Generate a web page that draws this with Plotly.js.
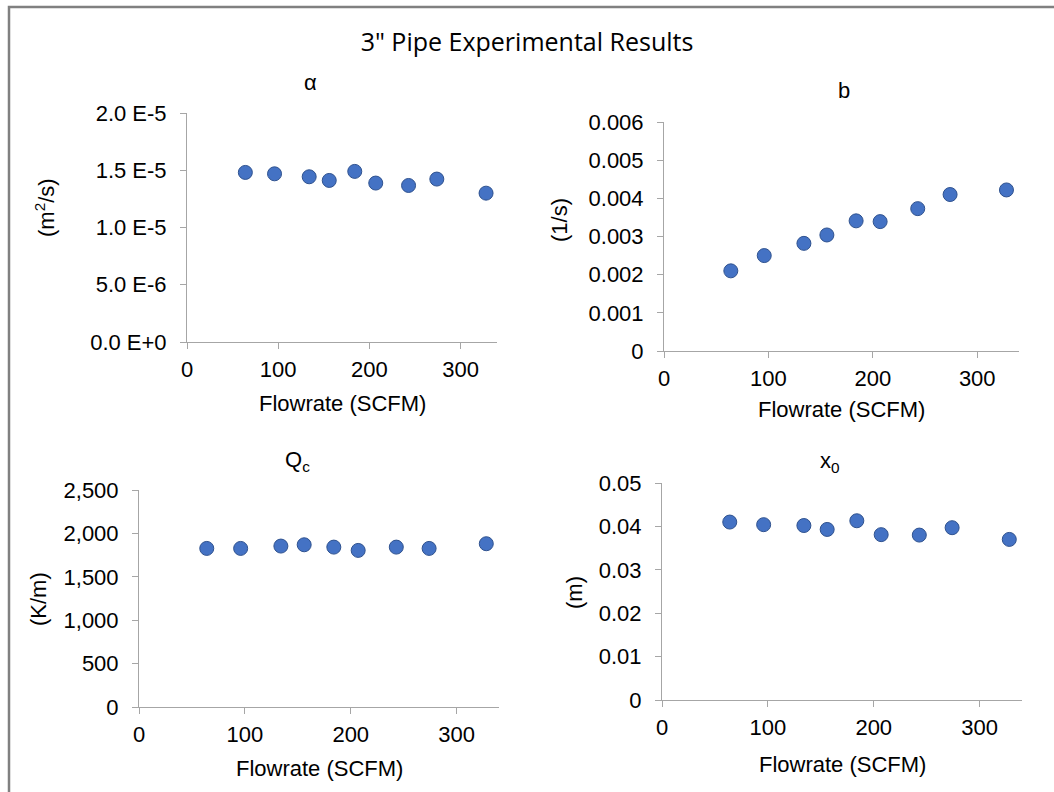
<!DOCTYPE html>
<html>
<head>
<meta charset="utf-8">
<script src="https://cdn.plot.ly/plotly-3.0.1.min.js"></script>
<style>html,body{margin:0;padding:0;background:#fff;}#chart{width:1054px;height:792px;}</style>
</head>
<body>
<div id="chart"></div>
<script>
// Data
const flowrate = [64, 96, 134, 156, 184, 207, 243, 274, 328];
const alphaVals = [1.481e-5, 1.469e-5, 1.443e-5, 1.411e-5, 1.490e-5, 1.388e-5, 1.367e-5, 1.423e-5, 1.300e-5];
const bVals = [0.00210, 0.00250, 0.00282, 0.00304, 0.00341, 0.00339, 0.00373, 0.00410, 0.00422];
const qcVals = [1827, 1827, 1854, 1869, 1842, 1804, 1842, 1827, 1881];
const x0Vals = [0.0410, 0.0404, 0.0402, 0.0393, 0.0413, 0.0381, 0.0380, 0.0397, 0.0370];

const alphaTicks = [0, 5e-6, 1e-5, 1.5e-5, 2e-5];
const alphaTickText = ["0.0 E+0", "5.0 E-6", "1.0 E-5", "1.5 E-5", "2.0 E-5"];
const bTicks = [0, 0.001, 0.002, 0.003, 0.004, 0.005, 0.006];
const bTickText = ["0", "0.001", "0.002", "0.003", "0.004", "0.005", "0.006"];
const qcTicks = [0, 500, 1000, 1500, 2000, 2500];
const qcTickText = ["0", "500", "1,000", "1,500", "2,000", "2,500"];
const x0Ticks = [0, 0.01, 0.02, 0.03, 0.04, 0.05];
const x0TickText = ["0", "0.01", "0.02", "0.03", "0.04", "0.05"];
const xTicks = [0, 100, 200, 300];

const W = 1054, H = 792;
const px = v => v / W;
const py = v => 1 - v / H;

const FONT = "Liberation Sans, Arial, sans-serif";
const FS = 22;
const marker = {size: 14, color: "#4472C4", line: {color: "#2F528F", width: 1}};

function trace(y, xa, ya) {
  return {x: flowrate, y: y, type: "scatter", mode: "markers", marker: marker,
          xaxis: xa, yaxis: ya, hoverinfo: "x+y", showlegend: false};
}

const data = [
  trace(alphaVals, "x", "y"),
  trace(bVals, "x2", "y2"),
  trace(qcVals, "x3", "y3"),
  trace(x0Vals, "x4", "y4")
];

const axisColor = "#a6a6a6";
function xa(d0, d1, anchor) {
  return {domain: [px(d0), px(d1)], range: [0, 340], tickvals: xTicks, ticks: "outside",
          ticklen: 6, tickcolor: axisColor, showline: true, linecolor: axisColor, linewidth: 1,
          showgrid: false, zeroline: false, anchor: anchor, fixedrange: true,
          tickfont: {family: FONT, size: FS, color: "#000"}, ticklabelstandoff: 2};
}
function ya(d0, d1, range, tv, tt, anchor) {
  return {domain: [py(d1), py(d0)], range: range, tickvals: tv, ticktext: tt, ticks: "outside",
          ticklen: 6, tickcolor: axisColor, showline: true, linecolor: axisColor, linewidth: 1,
          showgrid: false, zeroline: false, anchor: anchor, fixedrange: true,
          tickfont: {family: FONT, size: FS, color: "#000"}, ticklabelstandoff: 9};
}

function ann(text, x, y, rot) {
  return {text: text, xref: "paper", yref: "paper", x: px(x), y: py(y), xanchor: "center",
          yanchor: "middle", showarrow: false, textangle: rot || 0,
          font: {family: FONT, size: FS, color: "#000"}};
}

const layout = {
  width: W, height: H,
  margin: {l: 0, r: 0, t: 0, b: 0},
  paper_bgcolor: "#fff", plot_bgcolor: "rgba(0,0,0,0)",
  title: {text: "3\" Pipe Experimental Results", x: 0.5, xanchor: "center", y: py(42), yanchor: "middle",
          font: {family: "Open Sans, sans-serif", size: 25, color: "#000"}},
  xaxis: xa(187, 497, "y"),
  yaxis: ya(113, 342, [0, 2e-5], alphaTicks, alphaTickText, "x"),
  xaxis2: xa(664, 1019, "y2"),
  yaxis2: ya(122, 351, [0, 0.006], bTicks, bTickText, "x2"),
  xaxis3: xa(139, 499, "y3"),
  yaxis3: ya(490, 707, [0, 2500], qcTicks, qcTickText, "x3"),
  xaxis4: xa(662, 1022, "y4"),
  yaxis4: ya(483, 700, [0, 0.05], x0Ticks, x0TickText, "x4"),
  annotations: [
    ann("α", 310, 83),
    ann("b", 844, 90),
    ann("Q<sub>c</sub>", 297, 461),
    ann("x<sub>0</sub>", 830, 462),
    ann("Flowrate (SCFM)", 342, 403),
    ann("Flowrate (SCFM)", 841, 410),
    ann("Flowrate (SCFM)", 319, 768),
    ann("Flowrate (SCFM)", 842, 764),
    ann("(m<sup>2</sup>/s)", 45, 208, -90),
    ann("(1/s)", 559, 220, -90),
    ann("(K/m)", 38, 599, -90),
    ann("(m)", 574, 593, -90)
  ],
  shapes: [{type: "rect", xref: "paper", yref: "paper", x0: px(9), x1: px(1070), y0: py(810), y1: py(7),
            line: {color: "#808080", width: 2.5}, fillcolor: "rgba(0,0,0,0)", layer: "below"}]
};

Plotly.newPlot("chart", data, layout, {displayModeBar: false, staticPlot: true});
</script>
</body>
</html>
